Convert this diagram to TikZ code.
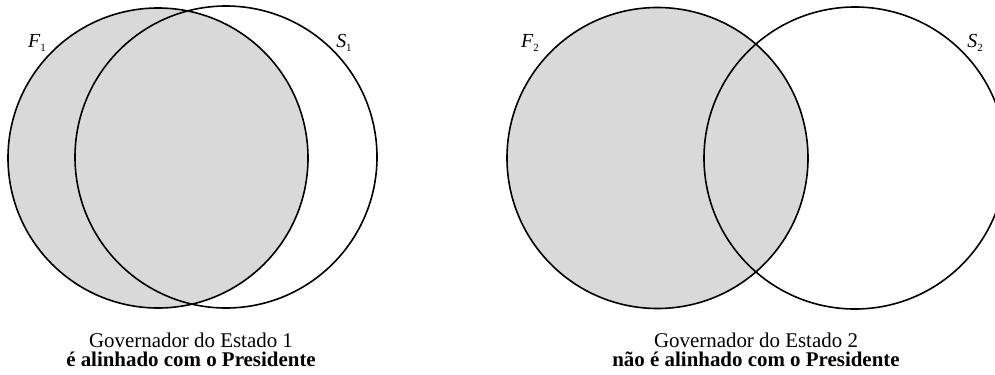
\documentclass[tikz,border=0pt]{standalone}
\usepackage{fontspec}
\setmainfont{Liberation Serif}
\definecolor{vennfill}{RGB}{217,217,217}
\begin{document}
\begin{tikzpicture}[x=1bp,y=-1bp,
  setcirc/.style={circle, draw=black, line width=1.6bp, inner sep=0pt},
  shaded/.style={setcirc, fill=vennfill},
  setlabel/.style={font=\fontsize{20}{22}\selectfont, inner sep=0pt},
  caption/.style={font=\fontsize{21}{20}\selectfont, align=center, inner sep=0pt}]
\clip (0,0) rectangle (995,374);
\fill[white] (0,0) rectangle (995,374);
% left diagram
\node[shaded, minimum size=300bp] (F1) at (158,158) {};
\node[setcirc, minimum size=302bp] (S1) at (226,157) {};
\node[setlabel] (lF1) at (37,43) {\itshape F\raisebox{-0.4ex}{\upshape\fontsize{11}{12}\selectfont 1}};
\node[setlabel] (lS1) at (344,43) {\itshape S\raisebox{-0.4ex}{\upshape\fontsize{11}{12}\selectfont 1}};
\node[caption] (c1) at (191,350) {Governador do Estado 1\\[-1pt]\textbf{é alinhado com o Presidente}};
% right diagram
\node[shaded, minimum size=301bp] (F2) at (657.5,158) {};
\node[setcirc, minimum size=302bp] (S2) at (855,158) {};
\node[setlabel] (lF2) at (530,43) {\itshape F\raisebox{-0.4ex}{\upshape\fontsize{11}{12}\selectfont 2}};
\node[setlabel] (lS2) at (975,43) {\itshape S\raisebox{-0.4ex}{\upshape\fontsize{11}{12}\selectfont 2}};
\node[caption] (c2) at (756,350) {Governador do Estado 2\\[-1pt]\textbf{não é alinhado com o Presidente}};
\end{tikzpicture}
\end{document}
